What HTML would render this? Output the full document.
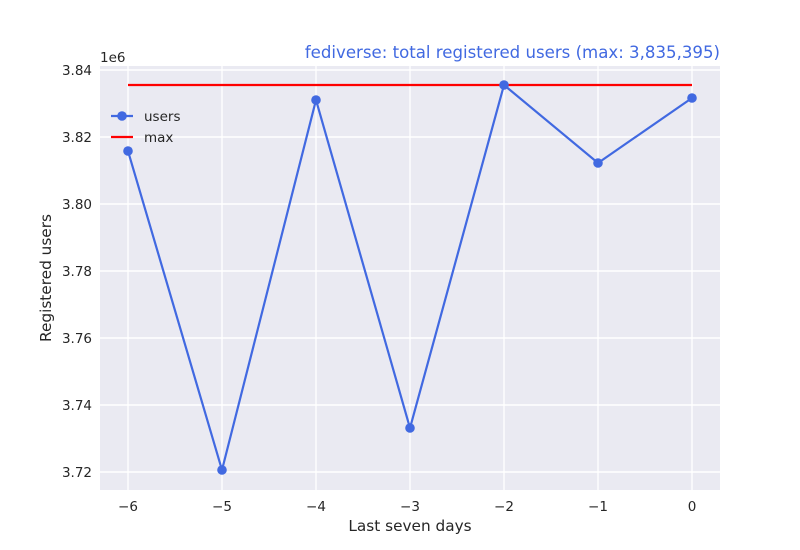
<!DOCTYPE html><html><head><style>body{margin:0;background:#fff}svg{display:block}text{font-family:"DejaVu Sans","Liberation Sans",sans-serif;fill:#262626}</style></head><body>
<svg width="800" height="550" xmlns="http://www.w3.org/2000/svg">
<rect x="100" y="66" width="620" height="424" fill="#eaeaf2"/>
<g stroke="#fff" stroke-width="1.4">
<line x1="128" y1="66" x2="128" y2="490"/><line x1="222" y1="66" x2="222" y2="490"/><line x1="316" y1="66" x2="316" y2="490"/><line x1="410" y1="66" x2="410" y2="490"/><line x1="504" y1="66" x2="504" y2="490"/><line x1="598" y1="66" x2="598" y2="490"/><line x1="692" y1="66" x2="692" y2="490"/>
<line x1="100" y1="70" x2="720" y2="70"/><line x1="100" y1="137" x2="720" y2="137"/><line x1="100" y1="204" x2="720" y2="204"/><line x1="100" y1="271" x2="720" y2="271"/><line x1="100" y1="338" x2="720" y2="338"/><line x1="100" y1="405" x2="720" y2="405"/><line x1="100" y1="472" x2="720" y2="472"/>
</g>
<line x1="128" y1="85" x2="692" y2="85" stroke="#ff0000" stroke-width="2.2"/>
<polyline points="128,151 222,470 316,100 410,428 504,85 598,163 692,98" fill="none" stroke="#4169e1" stroke-width="2.2"/>
<g fill="#4169e1"><circle cx="128" cy="151" r="4.8"/><circle cx="222" cy="470" r="4.8"/><circle cx="316" cy="100" r="4.8"/><circle cx="410" cy="428" r="4.8"/><circle cx="504" cy="85" r="4.8"/><circle cx="598" cy="163" r="4.8"/><circle cx="692" cy="98" r="4.8"/></g>
<line x1="111" y1="116" x2="133" y2="116" stroke="#4169e1" stroke-width="2.2"/><circle cx="122" cy="116" r="4.8" fill="#4169e1"/>
<text x="144" y="121" font-size="13.5">users</text>
<line x1="111" y1="137" x2="133" y2="137" stroke="#ff0000" stroke-width="2.2"/>
<text x="144" y="142" font-size="13.5">max</text>
<g font-size="13.5" text-anchor="end">
<text x="92" y="75">3.84</text><text x="92" y="142">3.82</text><text x="92" y="209">3.80</text><text x="92" y="276">3.78</text><text x="92" y="343">3.76</text><text x="92" y="410">3.74</text><text x="92" y="477">3.72</text></g>
<text x="100" y="62" font-size="13.5">1e6</text>
<g font-size="13.5" text-anchor="middle">
<text x="128" y="511">−6</text><text x="222" y="511">−5</text><text x="316" y="511">−4</text><text x="410" y="511">−3</text><text x="504" y="511">−2</text><text x="598" y="511">−1</text><text x="692" y="511">0</text></g>
<text x="410" y="531" font-size="15.3" text-anchor="middle">Last seven days</text>
<text transform="translate(51,278) rotate(-90)" font-size="15.3" text-anchor="middle">Registered users</text>
<text x="720" y="58" font-size="16.6" text-anchor="end" style="fill:#4169e1">fediverse: total registered users (max: 3,835,395)</text>
</svg></body></html>
